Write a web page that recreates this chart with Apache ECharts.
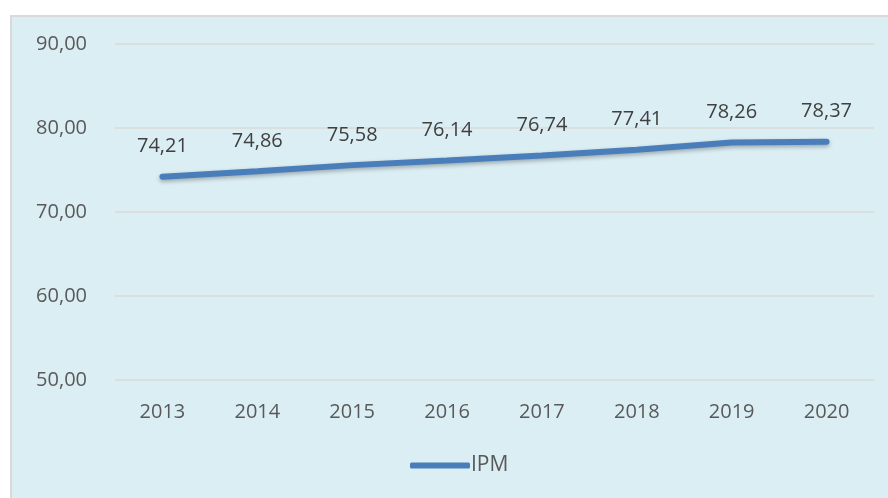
<!DOCTYPE html>
<html>
<head>
<meta charset="utf-8">
<script src="https://cdn.jsdelivr.net/npm/echarts@6/dist/echarts.min.js"></script>
<style>
  html, body { margin: 0; padding: 0; background: #fff; }
  #chart { width: 888px; height: 498px; }
</style>
</head>
<body>
<div id="chart"></div>
<script>
// IPM 2013-2020
const years = ["2013", "2014", "2015", "2016", "2017", "2018", "2019", "2020"];
const ipm = [74.21, 74.86, 75.58, 76.14, 76.74, 77.41, 78.26, 78.37];

const fmt = v => v.toFixed(2).replace(".", ",");

const chart = echarts.init(document.getElementById("chart"));
chart.setOption({
  backgroundColor: "#fff",
  animation: false,
  textStyle: { fontFamily: "Open Sans, Noto Sans, sans-serif" },
  graphic: [
    {
      type: "rect",
      z: -10,
      shape: { x: 11, y: 16, width: 890, height: 490 },
      style: { fill: "#DBEEF4", stroke: "#D9D9D9", lineWidth: 2 }
    }
  ],
  grid: { left: 115, right: 14, top: 44, bottom: 118 },
  legend: {
    bottom: 17,
    left: 405,
    itemWidth: 60,
    itemHeight: 6,
    itemGap: 4,
    icon: "roundRect",
    textStyle: { color: "#595959", fontSize: 21, padding: [0, 0, 0, -4] },
    data: ["IPM"]
  },
  xAxis: {
    type: "category",
    data: years,
    axisLine: { show: false },
    axisTick: { show: false },
    axisLabel: { color: "#595959", fontSize: 20, margin: 22 }
  },
  yAxis: {
    type: "value",
    min: 50,
    max: 90,
    interval: 10,
    axisLine: { show: false },
    axisTick: { show: false },
    splitLine: { lineStyle: { color: "#D9D9D9", width: 1.5 } },
    axisLabel: { color: "#595959", fontSize: 20, margin: 28, formatter: fmt }
  },
  series: [
    {
      name: "IPM",
      type: "line",
      data: ipm,
      symbol: "circle",
      symbolSize: 0,
      showSymbol: true,
      itemStyle: { color: "#4A7EBB" },
      lineStyle: {
        color: "#4A7EBB",
        width: 6,
        cap: "round",
        shadowColor: "rgba(0,0,0,0.3)",
        shadowBlur: 4,
        shadowOffsetY: 2
      },
      label: {
        show: true,
        position: "top",
        distance: 20,
        color: "#404040",
        fontSize: 20,
        formatter: p => fmt(p.value)
      }
    }
  ]
});
</script>
</body>
</html>
